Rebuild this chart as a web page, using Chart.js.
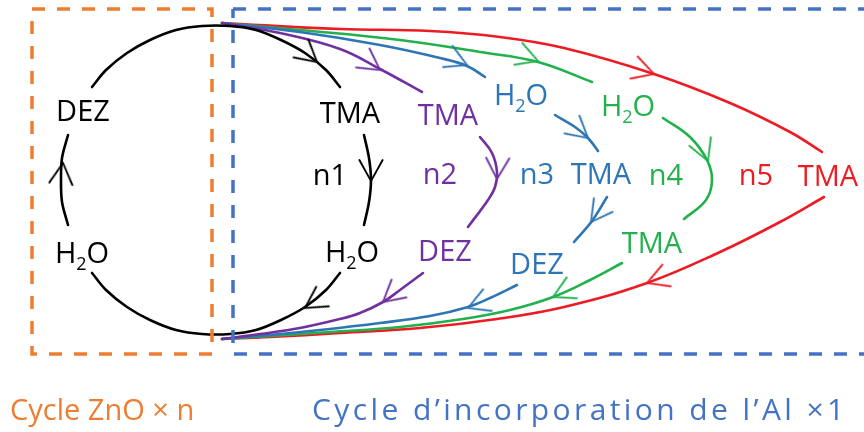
<!DOCTYPE html>
<html>
<head>
<meta charset="utf-8">
<script src="https://cdn.jsdelivr.net/npm/chart.js@4"></script>
<style>
  html, body { margin: 0; padding: 0; background: #fff; }
  canvas { display: block; }
</style>
</head>
<body>
<canvas id="cycleChart" width="864" height="432"></canvas>
<script>
// cycle ZnO (noir), repère 864 x 432
var blackTop = [[92,87],[106,70],[127,53],[150,40],[176,30],[202,26],[230,26],[256,30],[281,40],[305,53],[326,70],[340,87]];
var blackRight = [[364,135],[369,158],[371,180],[369,202],[364,225]];
var blackBottom = [[340,273],[326,290],[305,307],[281,320],[256,330],[230,334],[202,334],[176,330],[150,320],[127,307],[106,290],[92,273]];
var blackLeft = [[68,225],[62,202],[61,180],[62,158],[68,135]];

// n2
var purple1 = [[222,23],[280,33],[340,49],[380,69],[422,92]];
var purple2 = [[480,137],[492,153],[497,172],[495,187],[488,200],[468,227]];
var purple3 = [[423,273],[400,290],[383,302],[360,313],[340,319],[300,328],[260,334],[222,339]];

// n3
var blue1 = [[222,23],[300,32],[380,45],[440,58],[467,66],[485,77]];
var blue2 = [[555,115],[575,127],[588,138],[598,151]];
var blue3 = [[607,197],[592,221],[574,242]];
var blue4 = [[517,285],[490,298],[468,307],[430,316],[380,323],[320,330],[270,335],[222,339]];

// n4
var green1 = [[222,23],[300,30],[400,40],[480,52],[538,62],[592,82]];
var green2 = [[663,118],[690,137],[707,160],[712,180],[706,200],[684,219]];
var green3 = [[622,263],[590,280],[553,297],[510,310],[463,319],[400,327],[330,332],[270,336],[222,339]];

// n5
var red1 = [[222,23],[340,29],[430,31],[500,37],[564,48],[654,74],[730,103],[790,132],[822,152]];
var red2 = [[824,197],[780,222],[720,252],[647,283],[564,307],[497,319],[420,328],[340,333],[270,337],[222,339]];

// flèches : x, y, direction (degrés)
var blackArrows = [[317,62,40],[371,181,90],[305,308,147],[63,163,-84]];
var purpleArrows = [[380,70,35],[497,179,92],[383,302,140]];
var blueArrows = [[467,65,24],[588,138,40],[591,222,126],[468,308,158]];
var greenArrows = [[538,61,20],[708,161,68],[553,297,154]];
var redArrows = [[654,74,18],[647,283,159]];

// cadres
var znoBox = [[32,9],[212,9],[212,354],[32,354],[32,9]];
var alBox = [[233,9],[880,9],[880,354],[233,354],[233,9]];

// étiquettes : texte, x, ligne de base, couleur
var labels = [
  ['DEZ', 83, 121, 'black'], ['H_2O', 82, 263, 'black'], ['TMA', 350, 123, 'black'],
  ['n1', 330, 185, 'black'], ['H_2O', 352, 262, 'black'],
  ['TMA', 448, 125, 'purple'], ['n2', 440, 184, 'purple'], ['DEZ', 445, 261, 'purple'],
  ['H_2O', 521, 105, 'blue'], ['n3', 537, 184, 'blue'], ['TMA', 601, 184, 'blue'], ['DEZ', 537, 274, 'blue'],
  ['H_2O', 628, 116, 'green'], ['n4', 666, 185, 'green'], ['TMA', 652, 253, 'green'],
  ['n5', 756, 185, 'red'], ['TMA', 828, 186, 'red']
];
var captions = [
  ['Cycle ZnO \u00d7 n', 10, 420, 'zno'],
  ['Cycle d\u2019incorporation de l\u2019Al \u00d71', 312, 420, 'al']
];

var colors = {
  black: '#000000', purple: '#7030A0', blue: '#2E75B6', green: '#22B14C', red: '#ED1C24',
  zno: '#ED7D31', al: '#4472C4'
};
var FONT = '"Open Sans", "Noto Sans", sans-serif';

function toXY(arr) {
  return arr.map(function (p) { return { x: p[0], y: p[1] }; });
}

function curve(points, color, tension) {
  return {
    data: toXY(points), showLine: true, borderColor: color, borderWidth: 2.6,
    borderCapStyle: 'round', pointRadius: 0, tension: tension || 0.4, fill: false, order: 2
  };
}

function box(points, color) {
  return {
    data: toXY(points), showLine: true, borderColor: color, borderWidth: 3.5,
    borderDash: [13, 12], borderJoinStyle: 'miter', pointRadius: 0, tension: 0, fill: false, order: 0
  };
}

// tête de flèche ouverte, pointe au centre, orientée vers la droite
function arrowHead(color) {
  var c = document.createElement('canvas');
  c.width = 64; c.height = 64;
  var g = c.getContext('2d');
  var L = 24, a = 29 * Math.PI / 180;
  g.strokeStyle = color;
  g.lineWidth = 1.8;
  g.lineCap = 'round';
  g.beginPath();
  g.moveTo(32 - L * Math.cos(a), 32 - L * Math.sin(a));
  g.lineTo(32, 32);
  g.lineTo(32 - L * Math.cos(a), 32 + L * Math.sin(a));
  g.stroke();
  return c;
}

function arrows(arr, color) {
  return {
    data: toXY(arr), showLine: false, pointStyle: arrowHead(color), pointRadius: 4,
    rotation: arr.map(function (a) { return a[2]; }), order: 1
  };
}

function drawText(ctx, text, cx, base, size, align) {
  var parts = text.split('_');
  ctx.textBaseline = 'alphabetic';
  ctx.textAlign = 'left';
  if (parts.length === 1) {
    ctx.font = size + 'px ' + FONT;
    ctx.textAlign = align;
    ctx.fillText(text, cx, base);
    return;
  }
  var big = size + 'px ' + FONT, small = Math.round(size * 0.62) + 'px ' + FONT;
  var a = parts[0], sub = parts[1].charAt(0), b = parts[1].slice(1);
  ctx.font = big; var wa = ctx.measureText(a).width, wb = ctx.measureText(b).width;
  ctx.font = small; var ws = ctx.measureText(sub).width;
  var x = cx - (wa + ws + wb) / 2;
  ctx.font = big; ctx.fillText(a, x, base);
  ctx.font = small; ctx.fillText(sub, x + wa, base + 7);
  ctx.font = big; ctx.fillText(b, x + wa + ws, base);
}

var textPlugin = {
  id: 'diagramText',
  afterDraw: function (chart) {
    var ctx = chart.ctx, sx = chart.scales.x, sy = chart.scales.y;
    ctx.save();
    labels.forEach(function (l) {
      ctx.fillStyle = colors[l[3]];
      drawText(ctx, l[0], sx.getPixelForValue(l[1]), sy.getPixelForValue(l[2]), 29, 'center');
    });
    captions.forEach(function (c) {
      ctx.fillStyle = colors[c[3]];
      ctx.letterSpacing = c[3] === 'al' ? '3.4px' : '0px';
      drawText(ctx, c[0], sx.getPixelForValue(c[1]), sy.getPixelForValue(c[2]), c[3] === 'al' ? 30 : 29, 'left');
    });
    ctx.restore();
  }
};

var ctx = document.getElementById('cycleChart').getContext('2d');
var cycleChart = new Chart(ctx, {
  type: 'scatter',
  data: {
    datasets: [
      box(znoBox, colors.zno), box(alBox, colors.al),
      curve(blackTop, colors.black, 0.33), curve(blackRight, colors.black, 0.33),
      curve(blackBottom, colors.black, 0.33), curve(blackLeft, colors.black, 0.33),
      curve(purple1, colors.purple), curve(purple2, colors.purple), curve(purple3, colors.purple),
      curve(blue1, colors.blue), curve(blue2, colors.blue), curve(blue3, colors.blue), curve(blue4, colors.blue),
      curve(green1, colors.green), curve(green2, colors.green), curve(green3, colors.green),
      curve(red1, colors.red), curve(red2, colors.red),
      arrows(blackArrows, colors.black), arrows(purpleArrows, colors.purple),
      arrows(blueArrows, colors.blue), arrows(greenArrows, colors.green), arrows(redArrows, colors.red)
    ]
  },
  options: {
    responsive: false,
    animation: false,
    devicePixelRatio: 1,
    events: [],
    layout: { padding: 0, autoPadding: false },
    scales: {
      x: { type: 'linear', min: 0, max: 864, display: false },
      y: { type: 'linear', min: 0, max: 432, reverse: true, display: false }
    },
    plugins: { legend: { display: false }, tooltip: { enabled: false } }
  },
  plugins: [textPlugin]
});
</script>
</body>
</html>
